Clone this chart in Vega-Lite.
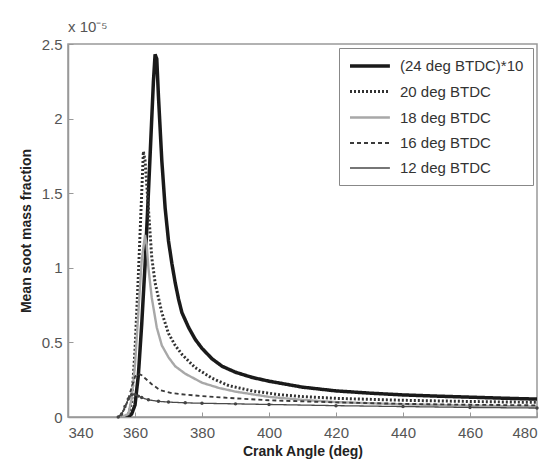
{
  "$schema": "https://vega.github.io/schema/vega-lite/v6.json",
  "width": 469,
  "height": 373,
  "autosize": {"type": "none"},
  "padding": {"left": 68, "top": 44, "right": 16, "bottom": 48},
  "title": {"text": "x 10⁻⁵", "anchor": "start", "frame": "group", "fontSize": 15, "fontWeight": "normal", "color": "#555", "font": "Liberation Sans", "offset": 2},
  "config": {
    "font": "Liberation Sans",
    "view": {"stroke": "#999", "strokeWidth": 1.5},
    "axis": {"grid": false, "domainColor": "#999", "domainWidth": 1.5, "tickColor": "#999", "tickSize": -5, "labelColor": "#555", "labelFontSize": 15, "titleFontSize": 14, "titleFontWeight": "bold", "titleColor": "#222", "labelFont": "Liberation Sans", "titleFont": "Liberation Sans"},
    "legend": {"symbolType": "M-1,0H4.7", "symbolSize": 196, "labelOffset": 34, "labelFontSize": 15, "labelColor": "#333", "padding": 9, "rowPadding": 9, "strokeColor": "#888", "fillColor": "white", "symbolFillColor": "transparent"}
  },
  "data": {"values": [
    {"angle": 356, "soot": 0, "series": "(24 deg BTDC)*10"},
    {"angle": 358, "soot": 0, "series": "(24 deg BTDC)*10"},
    {"angle": 359, "soot": 0.02, "series": "(24 deg BTDC)*10"},
    {"angle": 360, "soot": 0.08, "series": "(24 deg BTDC)*10"},
    {"angle": 361, "soot": 0.28, "series": "(24 deg BTDC)*10"},
    {"angle": 362, "soot": 0.62, "series": "(24 deg BTDC)*10"},
    {"angle": 363, "soot": 1.02, "series": "(24 deg BTDC)*10"},
    {"angle": 364, "soot": 1.5, "series": "(24 deg BTDC)*10"},
    {"angle": 365, "soot": 2.0, "series": "(24 deg BTDC)*10"},
    {"angle": 365.5, "soot": 2.25, "series": "(24 deg BTDC)*10"},
    {"angle": 366, "soot": 2.43, "series": "(24 deg BTDC)*10"},
    {"angle": 366.5, "soot": 2.4, "series": "(24 deg BTDC)*10"},
    {"angle": 367, "soot": 2.15, "series": "(24 deg BTDC)*10"},
    {"angle": 368, "soot": 1.72, "series": "(24 deg BTDC)*10"},
    {"angle": 369, "soot": 1.4, "series": "(24 deg BTDC)*10"},
    {"angle": 370, "soot": 1.18, "series": "(24 deg BTDC)*10"},
    {"angle": 371, "soot": 1.03, "series": "(24 deg BTDC)*10"},
    {"angle": 372, "soot": 0.9, "series": "(24 deg BTDC)*10"},
    {"angle": 373, "soot": 0.79, "series": "(24 deg BTDC)*10"},
    {"angle": 374, "soot": 0.7, "series": "(24 deg BTDC)*10"},
    {"angle": 376, "soot": 0.6, "series": "(24 deg BTDC)*10"},
    {"angle": 378, "soot": 0.52, "series": "(24 deg BTDC)*10"},
    {"angle": 380, "soot": 0.46, "series": "(24 deg BTDC)*10"},
    {"angle": 383, "soot": 0.39, "series": "(24 deg BTDC)*10"},
    {"angle": 386, "soot": 0.34, "series": "(24 deg BTDC)*10"},
    {"angle": 390, "soot": 0.3, "series": "(24 deg BTDC)*10"},
    {"angle": 395, "soot": 0.265, "series": "(24 deg BTDC)*10"},
    {"angle": 400, "soot": 0.24, "series": "(24 deg BTDC)*10"},
    {"angle": 405, "soot": 0.22, "series": "(24 deg BTDC)*10"},
    {"angle": 410, "soot": 0.2, "series": "(24 deg BTDC)*10"},
    {"angle": 420, "soot": 0.175, "series": "(24 deg BTDC)*10"},
    {"angle": 430, "soot": 0.16, "series": "(24 deg BTDC)*10"},
    {"angle": 440, "soot": 0.148, "series": "(24 deg BTDC)*10"},
    {"angle": 450, "soot": 0.14, "series": "(24 deg BTDC)*10"},
    {"angle": 460, "soot": 0.133, "series": "(24 deg BTDC)*10"},
    {"angle": 470, "soot": 0.126, "series": "(24 deg BTDC)*10"},
    {"angle": 480, "soot": 0.12, "series": "(24 deg BTDC)*10"},

    {"angle": 356, "soot": 0, "series": "20 deg BTDC"},
    {"angle": 358, "soot": 0.01, "series": "20 deg BTDC"},
    {"angle": 359, "soot": 0.1, "series": "20 deg BTDC"},
    {"angle": 360, "soot": 0.45, "series": "20 deg BTDC"},
    {"angle": 361, "soot": 0.95, "series": "20 deg BTDC"},
    {"angle": 362, "soot": 1.5, "series": "20 deg BTDC"},
    {"angle": 362.5, "soot": 1.78, "series": "20 deg BTDC"},
    {"angle": 363, "soot": 1.72, "series": "20 deg BTDC"},
    {"angle": 364, "soot": 1.4, "series": "20 deg BTDC"},
    {"angle": 365, "soot": 1.07, "series": "20 deg BTDC"},
    {"angle": 366, "soot": 0.9, "series": "20 deg BTDC"},
    {"angle": 368, "soot": 0.7, "series": "20 deg BTDC"},
    {"angle": 370, "soot": 0.56, "series": "20 deg BTDC"},
    {"angle": 372, "soot": 0.48, "series": "20 deg BTDC"},
    {"angle": 374, "soot": 0.42, "series": "20 deg BTDC"},
    {"angle": 378, "soot": 0.33, "series": "20 deg BTDC"},
    {"angle": 383, "soot": 0.26, "series": "20 deg BTDC"},
    {"angle": 388, "soot": 0.21, "series": "20 deg BTDC"},
    {"angle": 395, "soot": 0.175, "series": "20 deg BTDC"},
    {"angle": 403, "soot": 0.15, "series": "20 deg BTDC"},
    {"angle": 410, "soot": 0.137, "series": "20 deg BTDC"},
    {"angle": 420, "soot": 0.125, "series": "20 deg BTDC"},
    {"angle": 440, "soot": 0.112, "series": "20 deg BTDC"},
    {"angle": 460, "soot": 0.104, "series": "20 deg BTDC"},
    {"angle": 480, "soot": 0.098, "series": "20 deg BTDC"},

    {"angle": 356, "soot": 0, "series": "18 deg BTDC"},
    {"angle": 358, "soot": 0.02, "series": "18 deg BTDC"},
    {"angle": 359, "soot": 0.12, "series": "18 deg BTDC"},
    {"angle": 360, "soot": 0.35, "series": "18 deg BTDC"},
    {"angle": 361, "soot": 0.7, "series": "18 deg BTDC"},
    {"angle": 362, "soot": 1.05, "series": "18 deg BTDC"},
    {"angle": 363, "soot": 1.22, "series": "18 deg BTDC"},
    {"angle": 363.5, "soot": 1.15, "series": "18 deg BTDC"},
    {"angle": 364, "soot": 1.0, "series": "18 deg BTDC"},
    {"angle": 365, "soot": 0.8, "series": "18 deg BTDC"},
    {"angle": 366.5, "soot": 0.6, "series": "18 deg BTDC"},
    {"angle": 368, "soot": 0.48, "series": "18 deg BTDC"},
    {"angle": 370, "soot": 0.4, "series": "18 deg BTDC"},
    {"angle": 372, "soot": 0.34, "series": "18 deg BTDC"},
    {"angle": 375, "soot": 0.29, "series": "18 deg BTDC"},
    {"angle": 380, "soot": 0.23, "series": "18 deg BTDC"},
    {"angle": 385, "soot": 0.195, "series": "18 deg BTDC"},
    {"angle": 390, "soot": 0.17, "series": "18 deg BTDC"},
    {"angle": 400, "soot": 0.135, "series": "18 deg BTDC"},
    {"angle": 410, "soot": 0.115, "series": "18 deg BTDC"},
    {"angle": 420, "soot": 0.1, "series": "18 deg BTDC"},
    {"angle": 440, "soot": 0.085, "series": "18 deg BTDC"},
    {"angle": 460, "soot": 0.076, "series": "18 deg BTDC"},
    {"angle": 480, "soot": 0.07, "series": "18 deg BTDC"},

    {"angle": 355, "soot": 0, "series": "16 deg BTDC"},
    {"angle": 356, "soot": 0.02, "series": "16 deg BTDC"},
    {"angle": 357, "soot": 0.06, "series": "16 deg BTDC"},
    {"angle": 358, "soot": 0.12, "series": "16 deg BTDC"},
    {"angle": 359, "soot": 0.2, "series": "16 deg BTDC"},
    {"angle": 360, "soot": 0.27, "series": "16 deg BTDC"},
    {"angle": 361, "soot": 0.29, "series": "16 deg BTDC"},
    {"angle": 362, "soot": 0.28, "series": "16 deg BTDC"},
    {"angle": 363, "soot": 0.26, "series": "16 deg BTDC"},
    {"angle": 365, "soot": 0.22, "series": "16 deg BTDC"},
    {"angle": 367.5, "soot": 0.18, "series": "16 deg BTDC"},
    {"angle": 371, "soot": 0.16, "series": "16 deg BTDC"},
    {"angle": 375, "soot": 0.15, "series": "16 deg BTDC"},
    {"angle": 380, "soot": 0.14, "series": "16 deg BTDC"},
    {"angle": 390, "soot": 0.125, "series": "16 deg BTDC"},
    {"angle": 400, "soot": 0.112, "series": "16 deg BTDC"},
    {"angle": 420, "soot": 0.098, "series": "16 deg BTDC"},
    {"angle": 440, "soot": 0.088, "series": "16 deg BTDC"},
    {"angle": 460, "soot": 0.082, "series": "16 deg BTDC"},
    {"angle": 480, "soot": 0.078, "series": "16 deg BTDC"},

    {"angle": 355, "soot": 0, "series": "12 deg BTDC"},
    {"angle": 356, "soot": 0.02, "series": "12 deg BTDC"},
    {"angle": 357, "soot": 0.07, "series": "12 deg BTDC"},
    {"angle": 358, "soot": 0.12, "series": "12 deg BTDC"},
    {"angle": 359, "soot": 0.15, "series": "12 deg BTDC"},
    {"angle": 360, "soot": 0.15, "series": "12 deg BTDC"},
    {"angle": 361, "soot": 0.14, "series": "12 deg BTDC"},
    {"angle": 362, "soot": 0.13, "series": "12 deg BTDC"},
    {"angle": 364, "soot": 0.115, "series": "12 deg BTDC"},
    {"angle": 367, "soot": 0.105, "series": "12 deg BTDC"},
    {"angle": 370, "soot": 0.1, "series": "12 deg BTDC"},
    {"angle": 375, "soot": 0.095, "series": "12 deg BTDC"},
    {"angle": 380, "soot": 0.092, "series": "12 deg BTDC"},
    {"angle": 390, "soot": 0.088, "series": "12 deg BTDC"},
    {"angle": 400, "soot": 0.084, "series": "12 deg BTDC"},
    {"angle": 420, "soot": 0.076, "series": "12 deg BTDC"},
    {"angle": 440, "soot": 0.07, "series": "12 deg BTDC"},
    {"angle": 460, "soot": 0.064, "series": "12 deg BTDC"},
    {"angle": 480, "soot": 0.06, "series": "12 deg BTDC"}
  ]},
  "layer": [
    {
      "mark": {"type": "line", "clip": true},
      "encoding": {
        "x": {"field": "angle", "type": "quantitative", "scale": {"domain": [340, 480], "nice": false},
              "axis": {"values": [340, 360, 380, 400, 420, 440, 460, 480], "title": "Crank Angle (deg)", "labelPadding": 13, "titlePadding": 4}},
        "y": {"field": "soot", "type": "quantitative", "scale": {"domain": [0, 2.5], "nice": false},
              "axis": {"values": [0, 0.5, 1, 1.5, 2, 2.5], "format": "~g", "title": "Mean soot mass fraction", "labelPadding": 11, "titlePadding": 8}},
        "color": {"field": "series", "type": "nominal",
                  "scale": {"domain": ["(24 deg BTDC)*10", "20 deg BTDC", "18 deg BTDC", "16 deg BTDC", "12 deg BTDC"],
                            "range": ["#1a1a1a", "#333333", "#a8a8a8", "#3a3a3a", "#4a4a4a"]},
                  "legend": {"title": null, "orient": "top-right", "offset": 4}},
        "strokeDash": {"field": "series", "type": "nominal",
                  "scale": {"domain": ["(24 deg BTDC)*10", "20 deg BTDC", "18 deg BTDC", "16 deg BTDC", "12 deg BTDC"],
                            "range": [[1, 0], [2, 2], [1, 0], [4, 3], [1, 0]]},
                  "legend": {"title": null, "orient": "top-right", "offset": 4}},
        "strokeWidth": {"field": "series", "type": "nominal",
                  "scale": {"domain": ["(24 deg BTDC)*10", "20 deg BTDC", "18 deg BTDC", "16 deg BTDC", "12 deg BTDC"],
                            "range": [3.5, 1.3, 1.3, 1.3, 1.3]},
                  "legend": {"title": null, "orient": "top-right", "offset": 4}}
      }
    },
    {
      "transform": [{"filter": "datum.series == '12 deg BTDC'"}],
      "mark": {"type": "point", "filled": true, "size": 12, "color": "#444444", "opacity": 1},
      "encoding": {
        "x": {"field": "angle", "type": "quantitative"},
        "y": {"field": "soot", "type": "quantitative"}
      }
    }
  ]
}
